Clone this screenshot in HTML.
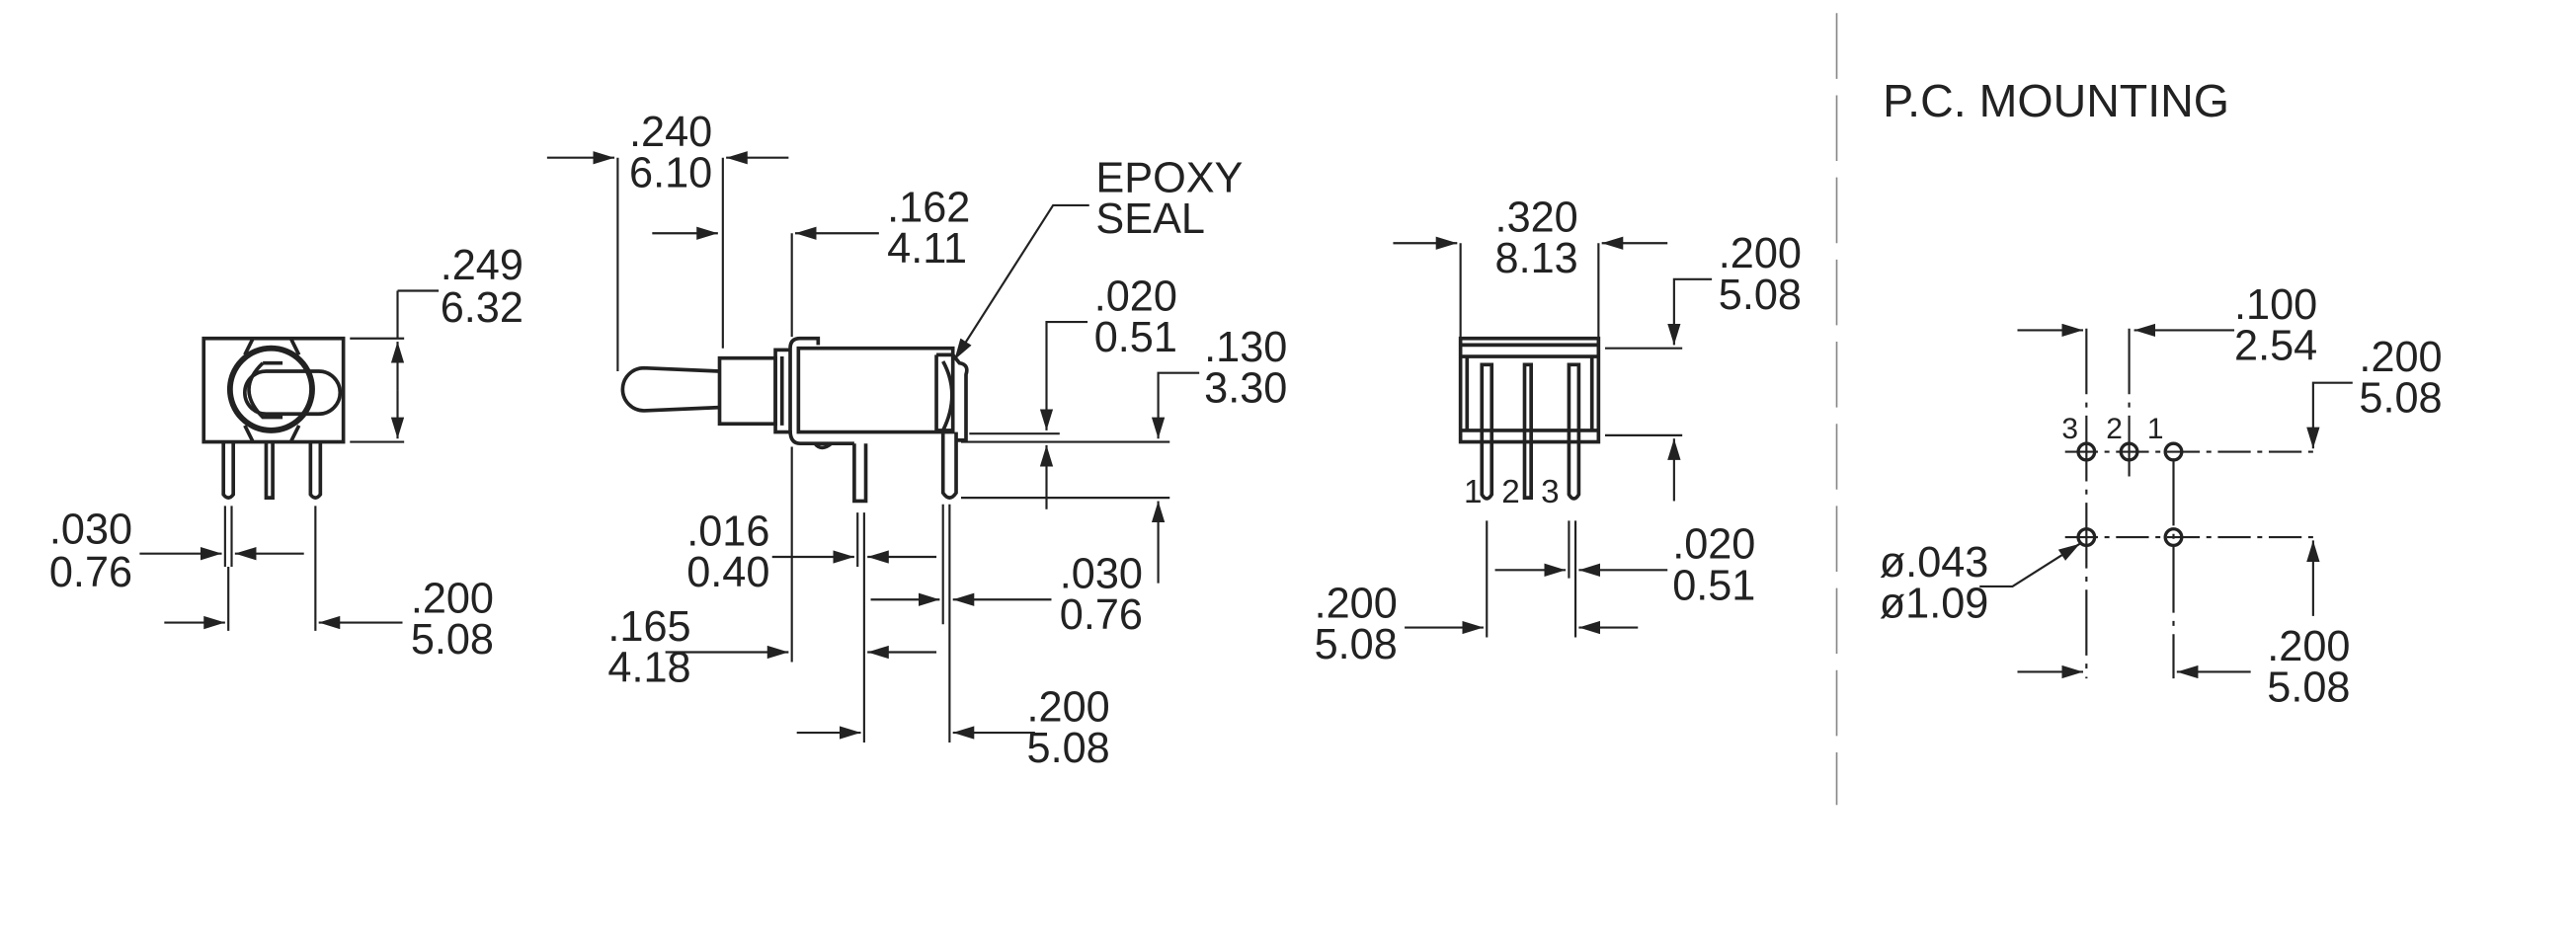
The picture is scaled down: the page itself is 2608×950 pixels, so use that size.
<!DOCTYPE html>
<html><head><meta charset="utf-8"><style>
html,body{margin:0;padding:0;background:#fff}
svg{display:block}
text{font-family:"Liberation Sans",sans-serif;font-size:26px;fill:#222}
</style></head><body>
<svg width="2608" height="950" viewBox="0 0 1568 571" preserveAspectRatio="none" xmlns="http://www.w3.org/2000/svg">
<defs>
<marker id="a" markerUnits="userSpaceOnUse" markerWidth="14" markerHeight="10" refX="13" refY="4" orient="auto"><path d="M0,0 L13,4 L0,8 z" fill="#222"/></marker>
</defs>
<g stroke="#222" stroke-width="1.3" fill="none">
<!-- LEFT VIEW -->
<g stroke-width="2.2">
<rect x="124" y="206" width="85" height="63"/>
<path d="M154,206 L149,216 M177,206 L182,216 M154,269 L149,259 M177,269 L182,259"/>
<circle cx="165" cy="237" r="25" stroke-width="3.5"/>
<path d="M162,226 L194,226 A13,13 0 0 1 194,252 L162,252 A13,13 0 0 1 162,226"/>
<path d="M160,221 L172,221 M160,221 Q143,237 160,254 L172,254"/>
<path d="M136,269 V301 Q139,305 142,301 V269"/>
<path d="M162,269 V303 H166 V269"/>
<path d="M189,269 V301 Q192,305 195,301 V269"/>
</g>
<path d="M213,206 H246 M213,269 H246 M242,177 H267"/>
<path d="M242,177 V206"/>
<path d="M242,238 V208" marker-end="url(#a)"/><path d="M242,238 V267" marker-end="url(#a)"/>
<path d="M137,308 V345 M141,308 V345 M139,345 V384 M192,308 V384"/>
<path d="M85,337 H135" marker-end="url(#a)"/><path d="M185,337 H143" marker-end="url(#a)"/>
<path d="M100,379 H137" marker-end="url(#a)"/><path d="M245,379 H194" marker-end="url(#a)"/>

<!-- MIDDLE VIEW -->
<g stroke-width="2.2">
<path d="M438,226 L392,224 A13,13 0 0 0 392,250 L438,248"/>
<rect x="438" y="218" width="34" height="40"/>
<rect x="472" y="213" width="9" height="50"/>
<path d="M476,217 V259"/>
<path d="M481,212 Q481,206 487,206 L498,206 V210"/>
<path d="M481,262 Q481,270 487,270 L520,270"/>
<path d="M486,212 H580 V263 H486 Z"/>
<path d="M570,216 H580 L584,221 Q590,222 588,228 V268 H582"/>
<path d="M570,216 V262 H580 M574,220 Q585,240 574,262"/>
<path d="M496,270 Q500,275 506,270"/>
<path d="M520,270 V305 H527 V270"/>
<path d="M574,263 V300 Q578,306 582,300 V263"/>
</g>
<path d="M376,96 V226 M440,96 V212 M482,142 V205"/>
<path d="M333,96 H374" marker-end="url(#a)"/><path d="M480,96 H442" marker-end="url(#a)"/>
<path d="M397,142 H437" marker-end="url(#a)"/><path d="M535,142 H484" marker-end="url(#a)"/>
<path d="M663,125 H641 L581,219" marker-end="url(#a)"/>
<path d="M590,264 H645 M585,269 H712 M585,303 H712"/>
<path d="M662,196 H637 V262" marker-end="url(#a)"/>
<path d="M637,310 V271" marker-end="url(#a)"/>
<path d="M730,227 H705 V267" marker-end="url(#a)"/>
<path d="M705,355 V305" marker-end="url(#a)"/>
<path d="M522,312 V345 M526,312 V452 M574,307 V380 M578,307 V452 M482,272 V403"/>
<path d="M470,339 H520" marker-end="url(#a)"/><path d="M570,339 H528" marker-end="url(#a)"/>
<path d="M530,365 H572" marker-end="url(#a)"/><path d="M640,365 H580" marker-end="url(#a)"/>
<path d="M405,397 H480" marker-end="url(#a)"/><path d="M570,397 H528" marker-end="url(#a)"/>
<path d="M485,446 H524" marker-end="url(#a)"/><path d="M630,446 H580" marker-end="url(#a)"/>

<!-- RIGHT VIEW -->
<g stroke-width="2.2">
<rect x="889" y="206" width="84" height="63"/>
<path d="M889,210 H973 M889,217 H973 M893,217 V262 H969 V217 M889,262 H973"/>
<path d="M902,222 V301 Q905,306 908,301 V222 Z"/>
<path d="M928,222 V303 H932 V222 Z"/>
<path d="M955,222 V301 Q958,306 961,301 V222 Z"/>
</g>
<path d="M889,148 V205 M973,148 V205"/>
<path d="M848,148 H887" marker-end="url(#a)"/><path d="M1015,148 H975" marker-end="url(#a)"/>
<path d="M977,212 H1024 M977,265 H1024"/>
<path d="M1042,170 H1019 V210" marker-end="url(#a)"/>
<path d="M1019,305 V267" marker-end="url(#a)"/>
<path d="M905,317 V388 M955,317 V352 M959,317 V388"/>
<path d="M910,347 H953" marker-end="url(#a)"/><path d="M1015,347 H961" marker-end="url(#a)"/>
<path d="M855,382 H903" marker-end="url(#a)"/><path d="M997,382 H961" marker-end="url(#a)"/>

<!-- divider -->
<path d="M1118,8 V490" stroke="#888" stroke-width="1" stroke-dasharray="40,10"/>

<!-- PC MOUNTING -->
<g stroke-width="2">
<circle cx="1270" cy="275" r="5"/><circle cx="1296" cy="275" r="5"/><circle cx="1323" cy="275" r="5"/>
<circle cx="1270" cy="327" r="5"/><circle cx="1323" cy="327" r="5"/>
</g>
<path d="M1257,275 H1410 M1257,327 H1410" stroke-dasharray="20,4,3,4"/>
<path d="M1270,200 V413 M1323,280 V413 M1296,200 V290" stroke-dasharray="40,5,3,5"/>
<path d="M1228,201 H1268" marker-end="url(#a)"/><path d="M1360,201 H1299" marker-end="url(#a)"/>
<path d="M1432,233 H1408 V273" marker-end="url(#a)"/>
<path d="M1408,375 V329" marker-end="url(#a)"/>
<path d="M1205,357 H1225 L1266,331" marker-end="url(#a)"/>
<path d="M1228,409 H1268" marker-end="url(#a)"/><path d="M1370,409 H1325" marker-end="url(#a)"/>
</g>
<g>
<text x="268" y="170">.249</text><text x="268" y="196">6.32</text>
<text x="30" y="331">.030</text><text x="30" y="357">0.76</text>
<text x="250" y="373">.200</text><text x="250" y="398">5.08</text>
<text x="383" y="89">.240</text><text x="383" y="114">6.10</text>
<text x="540" y="135">.162</text><text x="540" y="160">4.11</text>
<text x="667" y="117">EPOXY</text><text x="667" y="142">SEAL</text>
<text x="666" y="189">.020</text><text x="666" y="214">0.51</text>
<text x="733" y="220">.130</text><text x="733" y="245">3.30</text>
<text x="418" y="332">.016</text><text x="418" y="357">0.40</text>
<text x="645" y="358">.030</text><text x="645" y="383">0.76</text>
<text x="370" y="390">.165</text><text x="370" y="415">4.18</text>
<text x="625" y="439">.200</text><text x="625" y="464">5.08</text>
<text x="910" y="141">.320</text><text x="910" y="166">8.13</text>
<text x="1046" y="163">.200</text><text x="1046" y="188">5.08</text>
<text x="1018" y="340">.020</text><text x="1018" y="365">0.51</text>
<text x="800" y="376">.200</text><text x="800" y="401">5.08</text>
<text x="891" y="306" style="font-size:20px">1</text><text x="914" y="306" style="font-size:20px">2</text><text x="938" y="306" style="font-size:20px">3</text>
<text x="1146" y="71" style="font-size:28px">P.C. MOUNTING</text>
<text x="1255" y="267" style="font-size:18px">3</text><text x="1282" y="267" style="font-size:18px">2</text><text x="1307" y="267" style="font-size:18px">1</text>
<text x="1360" y="194">.100</text><text x="1360" y="219">2.54</text>
<text x="1436" y="226">.200</text><text x="1436" y="251">5.08</text>
<text x="1144" y="351">ø.043</text><text x="1144" y="376">ø1.09</text>
<text x="1380" y="402">.200</text><text x="1380" y="427">5.08</text>
</g>
</svg>
</body></html>
